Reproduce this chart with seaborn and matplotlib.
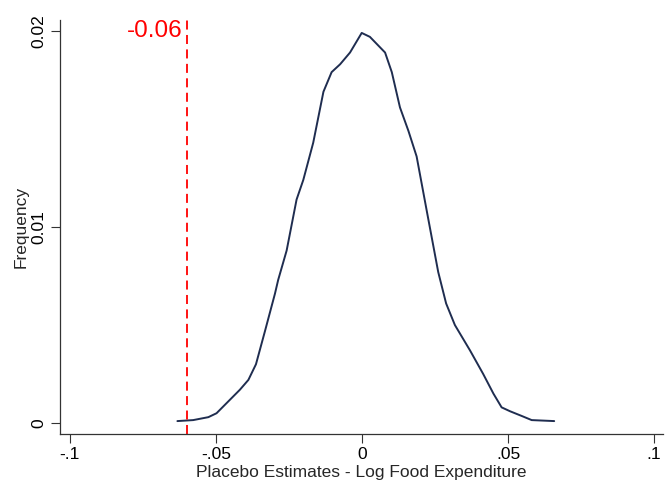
import matplotlib
matplotlib.use("Agg")
import matplotlib.pyplot as plt
import seaborn as sns
import pandas as pd

# -- Data ----------------------------------------------------------------------
estimates = [-0.0632, -0.0578, -0.0526, -0.0498, -0.0458, -0.0418, -0.0389, -0.0363,
             -0.0332, -0.0298, -0.0287, -0.0258, -0.0224, -0.0201, -0.0167, -0.0132,
             -0.0104, -0.0075, -0.0041, -0.0001, 0.0027, 0.0079, 0.0102, 0.0130,
             0.0159, 0.0187, 0.0222, 0.0261, 0.0288, 0.0318, 0.0370, 0.0415,
             0.0450, 0.0478, 0.0507, 0.0547, 0.0581, 0.0658]
density = [0.0001, 0.00015, 0.0003, 0.0005, 0.0011, 0.0017, 0.0022, 0.0030,
           0.0047, 0.0066, 0.0073, 0.0088, 0.0114, 0.0124, 0.0143, 0.0169,
           0.0179, 0.0183, 0.0189, 0.0199, 0.0197, 0.0189, 0.0179, 0.0161,
           0.0149, 0.0136, 0.0108, 0.0077, 0.0061, 0.0050, 0.0037, 0.0025,
           0.0015, 0.0008, 0.0006, 0.00036, 0.00015, 0.0001]
actual_estimate = -0.06
actual_label = "-0.06"

x_ticks = [-0.1, -0.05, 0, 0.05, 0.1]
x_tick_labels = ["-.1", "-.05", "0", ".05", ".1"]
y_ticks = [0, 0.01, 0.02]
y_tick_labels = ["0", "0.01", "0.02"]

C_LINE = "#1f2d50"
C_RED = "#ff0000"

sns.set_style("white")
plt.rcParams["font.family"] = ["Liberation Sans", "DejaVu Sans"]

df = pd.DataFrame({"estimate": estimates, "density": density})

fig = plt.figure(figsize=(6.65, 5.01), dpi=100)
ax = fig.add_axes([0.0902, 0.1337, 0.907, 0.8264])

sns.lineplot(data=df, x="estimate", y="density", sort=False, color=C_LINE,
             linewidth=1.4, ax=ax)
ax.axvline(actual_estimate, color=C_RED, linestyle=(0, (5, 3)), linewidth=1.3)
ax.text(actual_estimate - 0.0016, 0.0200, actual_label, color=C_RED, fontsize=17.5,
        ha="right", va="center")

ax.set_xlim(-0.1034, 0.1031)
ax.set_ylim(-0.00056, 0.02056)
ax.set_xticks(x_ticks)
ax.set_xticklabels(x_tick_labels)
ax.set_yticks(y_ticks)
ax.set_yticklabels(y_tick_labels, rotation=90, va="center")
ax.tick_params(axis="both", direction="out", length=6.5, width=0.8, color="#333333",
               labelsize=12.5, labelcolor="black", bottom=True, left=True)
ax.tick_params(axis="x", pad=3)
ax.tick_params(axis="y", pad=3)

ax.set_xlabel("Placebo Estimates - Log Food Expenditure", fontsize=12.5, labelpad=2)
ax.set_ylabel("Frequency", fontsize=12.5, labelpad=2)

for side in ["top", "right"]:
    ax.spines[side].set_visible(False)
for side in ["left", "bottom"]:
    ax.spines[side].set_color("#333333")
    ax.spines[side].set_linewidth(0.9)

fig.savefig("out.png", dpi=100)
plt.close(fig)
